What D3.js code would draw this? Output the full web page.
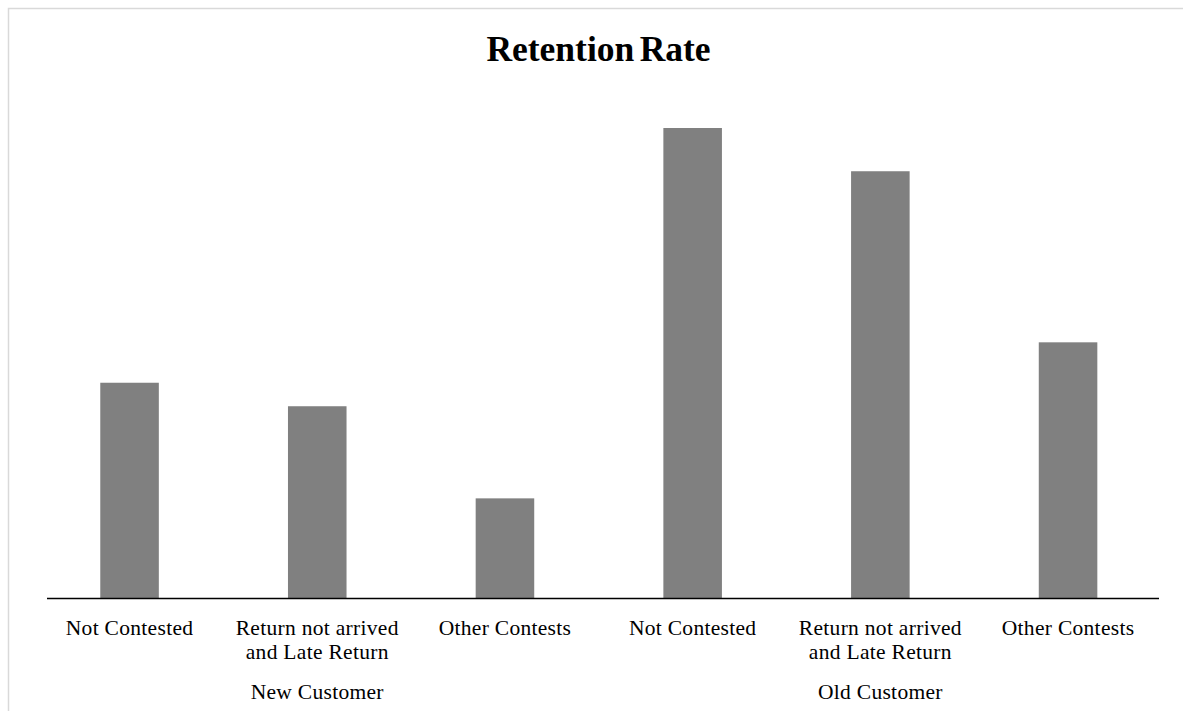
<!DOCTYPE html>
<html>
<head>
<meta charset="utf-8">
<script src="https://cdn.jsdelivr.net/npm/d3@7"></script>
<style>
  html, body { margin: 0; padding: 0; background: #fff; overflow: hidden; }
  svg { display: block; }
  text { font-family: "Liberation Serif", "Times New Roman", serif; fill: #000; }
</style>
</head>
<body>
<svg id="chart" width="1183" height="711"></svg>
<script>
const title = "Retention Rate";
const groups = ["New Customer", "Old Customer"];
const subCategories = [
  ["Not Contested"],
  ["Return not arrived", "and Late Return"],
  ["Other Contests"]
];
const groupOf = [0, 0, 0, 1, 1, 1];
const subOf = [0, 1, 2, 0, 1, 2];
const values = [0.229, 0.204, 0.106, 0.500, 0.454, 0.272];

const svg = d3.select("#chart");

// chart border
svg.append("rect")
  .attr("x", 8.5).attr("y", 8.5)
  .attr("width", 1300).attr("height", 800)
  .attr("fill", "none")
  .attr("stroke", "#d9d9d9")
  .attr("stroke-width", 1.5);

const idx = d3.range(values.length);
const x = d3.scaleBand()
  .domain(idx)
  .range([35.7, 1161.9])
  .paddingInner(0.688)
  .paddingOuter(0.344);

const y = d3.scaleLinear().domain([0, 0.5]).range([598, 128]);

// bars
svg.append("g").selectAll("rect")
  .data(idx)
  .join("rect")
  .attr("x", i => x(i))
  .attr("y", i => y(values[i]))
  .attr("width", x.bandwidth())
  .attr("height", i => y(0) - y(values[i]))
  .attr("fill", "#808080");

// axis line
svg.append("line")
  .attr("x1", 47).attr("x2", 1159)
  .attr("y1", y(0) + 0.5).attr("y2", y(0) + 0.5)
  .attr("stroke", "#000")
  .attr("stroke-width", 1.5);

// category labels
const lab = svg.append("g");
idx.forEach(i => {
  const cx = x(i) + x.bandwidth() / 2;
  const lines = subCategories[subOf[i]];
  const t = lab.append("text")
    .attr("x", cx)
    .attr("y", 635)
    .attr("text-anchor", "middle")
    .attr("font-size", 21.5)
    .attr("letter-spacing", 0.3);
  lines.forEach((l, k) => {
    t.append("tspan").attr("x", cx).attr("dy", k === 0 ? 0 : 23.5).text(l);
  });
});

// group labels centred on each group's bars
groups.forEach((g, gi) => {
  const members = idx.filter(i => groupOf[i] === gi);
  const first = x(members[0]), last = x(members[members.length - 1]) + x.bandwidth();
  svg.append("text")
    .attr("x", (first + last) / 2)
    .attr("y", 699)
    .attr("text-anchor", "middle")
    .attr("font-size", 21.5)
    .attr("letter-spacing", 0.3)
    .text(g);
});

// title
svg.append("text")
  .attr("x", 598.5)
  .attr("y", 61)
  .attr("text-anchor", "middle")
  .attr("font-size", 35.5)
  .attr("font-weight", "bold")
  .attr("word-spacing", -3.5)
  .text(title);
</script>
</body>
</html>
